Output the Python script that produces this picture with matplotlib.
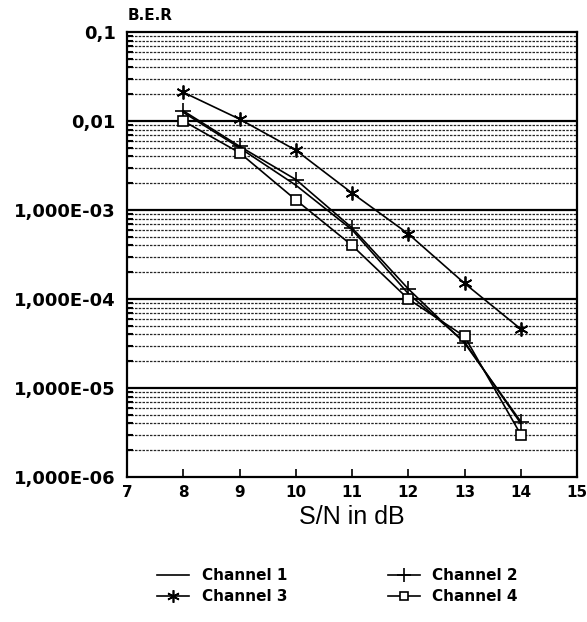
import numpy as np
import matplotlib
matplotlib.use("Agg")
import matplotlib.pyplot as plt
from matplotlib.lines import Line2D

snr = [8, 9, 10, 11, 12, 13, 14]
ch1 = [0.0125, 0.0050, 0.0019, 6.0e-4, 1.15e-4, 3.3e-5, 4.0e-6]
ch2 = [0.0130, 0.0052, 0.0022, 6.3e-4, 1.3e-4, 3.2e-5, 4.2e-6]
ch3 = [0.021, 0.0105, 0.0047, 1.55e-3, 5.4e-4, 1.5e-4, 4.6e-5]
ch4 = [0.0100, 0.0044, 0.0013, 4.0e-4, 1.0e-4, 3.8e-5, 3.0e-6]

yticks = [1e-6, 1e-5, 1e-4, 1e-3, 1e-2, 1e-1]
ylabels = ["1,000E-06", "1,000E-05", "1,000E-04", "1,000E-03", "0,01", "0,1"]
xticks = [7, 8, 9, 10, 11, 12, 13, 14, 15]

fig = plt.figure(figsize=(5.87, 6.22), dpi=100)
ax = fig.add_axes([0.2164, 0.2331, 0.7666, 0.7155])
ax.set_yscale("log")
ax.set_xlim(7, 15)
ax.set_ylim(1e-6, 1e-1)

# horizontal grid: dashed at minor decades, solid at majors
for d in range(-6, -1):
    for m in range(2, 10):
        ax.axhline(m * 10.0**d, color="0.15", lw=0.9, ls=(0, (2, 1)), zorder=1)
for v in yticks[1:-1]:
    ax.axhline(v, color="black", lw=1.6, zorder=1)

lw = 1.2
ax.plot(snr, ch1, color="black", lw=lw, zorder=3)
ax.plot(snr, ch2, color="black", lw=lw, marker="+", ms=11, mew=1.2, zorder=3)
ax.plot(snr, ch3, color="black", lw=lw, marker=(6, 2, 0), ms=10, mew=1.3, zorder=3)
ax.plot(snr, ch4, color="black", lw=lw, marker="s", ms=7, mfc="white", mew=1.2, zorder=4)

ax.set_yticks(yticks)
ax.set_yticklabels(ylabels, fontsize=13, fontweight="bold", family="DejaVu Sans")
ax.yaxis.set_minor_formatter(matplotlib.ticker.NullFormatter())
ax.tick_params(axis="y", which="major", length=0, pad=8)
ax.tick_params(axis="y", which="minor", direction="in", length=4, width=1.5)
ax.set_xticks(xticks)
ax.set_xticklabels([str(x) for x in xticks], fontsize=11, fontweight="bold", family="DejaVu Sans")
ax.tick_params(axis="x", direction="in", length=6, width=1.2, pad=6)
for s in ax.spines.values():
    s.set_linewidth(1.6)

ax.set_xlabel("S/N in dB", fontsize=18, family="Liberation Sans", labelpad=3)
fig.text(0.218, 0.975, "B.E.R", fontsize=11, fontweight="bold", family="DejaVu Sans",
         ha="left", va="center")

handles = [
    Line2D([], [], color="black", lw=lw),
    Line2D([], [], color="black", lw=lw, marker=(6, 2, 0), ms=9, mew=1.2),
    Line2D([], [], color="black", lw=lw, marker="+", ms=10, mew=1.2),
    Line2D([], [], color="black", lw=lw, marker="s", ms=6, mfc="white", mew=1.2),
]
names = ["Channel 1", "Channel 3", "Channel 2", "Channel 4"]
fig.legend(handles, names, loc="center", bbox_to_anchor=(0.575, 0.058), ncol=2,
           frameon=False, handlelength=2.1, columnspacing=6.6, labelspacing=0.4,
           prop={"family": "DejaVu Sans", "weight": "bold", "size": 11})

fig.savefig("out.png", dpi=100)
